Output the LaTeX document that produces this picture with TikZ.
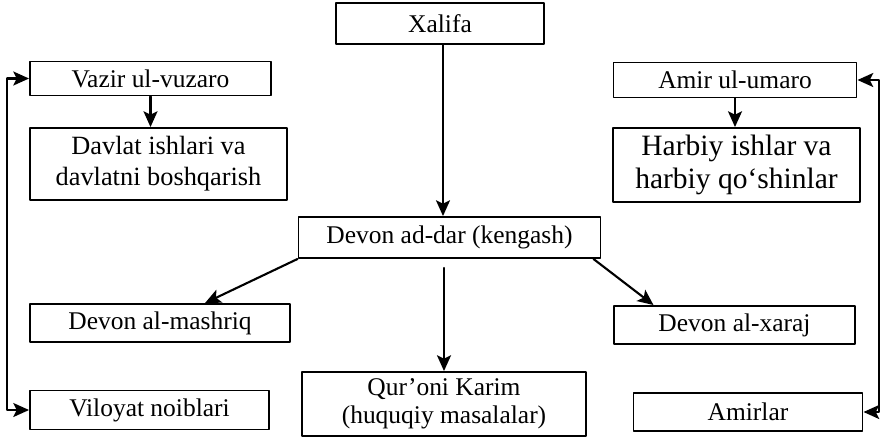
\documentclass[tikz,border=0pt]{standalone}
\usepackage{fontspec}
\setmainfont{Liberation Serif}
\usetikzlibrary{arrows.meta, calc}

\begin{document}
\begin{tikzpicture}[line cap=round,line join=round,>={Stealth[length=9pt,width=8pt,inset=2pt]},x=0.02cm,y=-0.02cm,
  box/.style={draw=black, line width=1.1pt, align=center, inner sep=0pt,
    font=\fontsize{14.5}{16}\selectfont},
  link/.style={->, line width=1.2pt}]
\useasboundingbox (0,0) rectangle (881,444);

\node[box, minimum width=208*0.02cm, minimum height=41*0.02cm] (xal) at (440,23.5) {Xalifa};
\node[box, minimum width=241*0.02cm, minimum height=34*0.02cm] (vaz) at (150.5,78.5) {Vazir ul-vuzaro};
\node[box, minimum width=257*0.02cm, minimum height=72*0.02cm, font=\fontsize{15}{17.6}\selectfont] (dav) at (158.5,164) {Davlat ishlari va\\davlatni boshqarish};
\node[box, minimum width=243*0.02cm, minimum height=35*0.02cm] (amir) at (735,80) {Amir ul-umaro};
\node[box, minimum width=247*0.02cm, minimum height=74*0.02cm, font=\fontsize{16.8}{18.8}\selectfont] (harb) at (736.5,165) {Harbiy ishlar va\\harbiy qo‘shinlar};
\node[box, minimum width=302*0.02cm, minimum height=41*0.02cm] (dd) at (449.5,237.5) {Devon ad-dar (kengash)};
\node[box, minimum width=260*0.02cm, minimum height=38*0.02cm] (mash) at (160,323) {Devon al-mashriq};
\node[box, minimum width=241*0.02cm, minimum height=38*0.02cm] (xaraj) at (734.5,325) {Devon al-xaraj};
\node[box, minimum width=284*0.02cm, minimum height=64*0.02cm] (quran) at (444,404) {Qur’oni Karim\\(huquqiy masalalar)};
\node[box, minimum width=239*0.02cm, minimum height=39*0.02cm] (vil) at (149.5,410) {Viloyat noiblari};
\node[box, minimum width=229*0.02cm, minimum height=38*0.02cm] (amirlar) at (748,412) {Amirlar};

\draw[link] ([xshift=0.06cm]xal.south) -- ([xshift=0.06cm]xal.south |- dd.north);
\draw[link] (vaz.south) -- (vaz.south |- dav.north);
\draw[link] (amir.south) -- (amir.south |- harb.north);
\draw[link] (dd.south west) -- ($(mash.north)+(45,0)$);
\draw[link] ($(dd.south east)+(-8,0)$) -- ($(xaraj.north)+(-81,0)$);
\draw[link, shorten <=0.18cm] (quran.north |- dd.south) -- (quran.north);

% side brackets
\draw[link, <->] (vaz.west) -- ++(-22,0) |- (vil.west);
\draw[link, <->] (amir.east) -- ++(21.5,0) |- (amirlar.east);

\end{tikzpicture}
\end{document}
